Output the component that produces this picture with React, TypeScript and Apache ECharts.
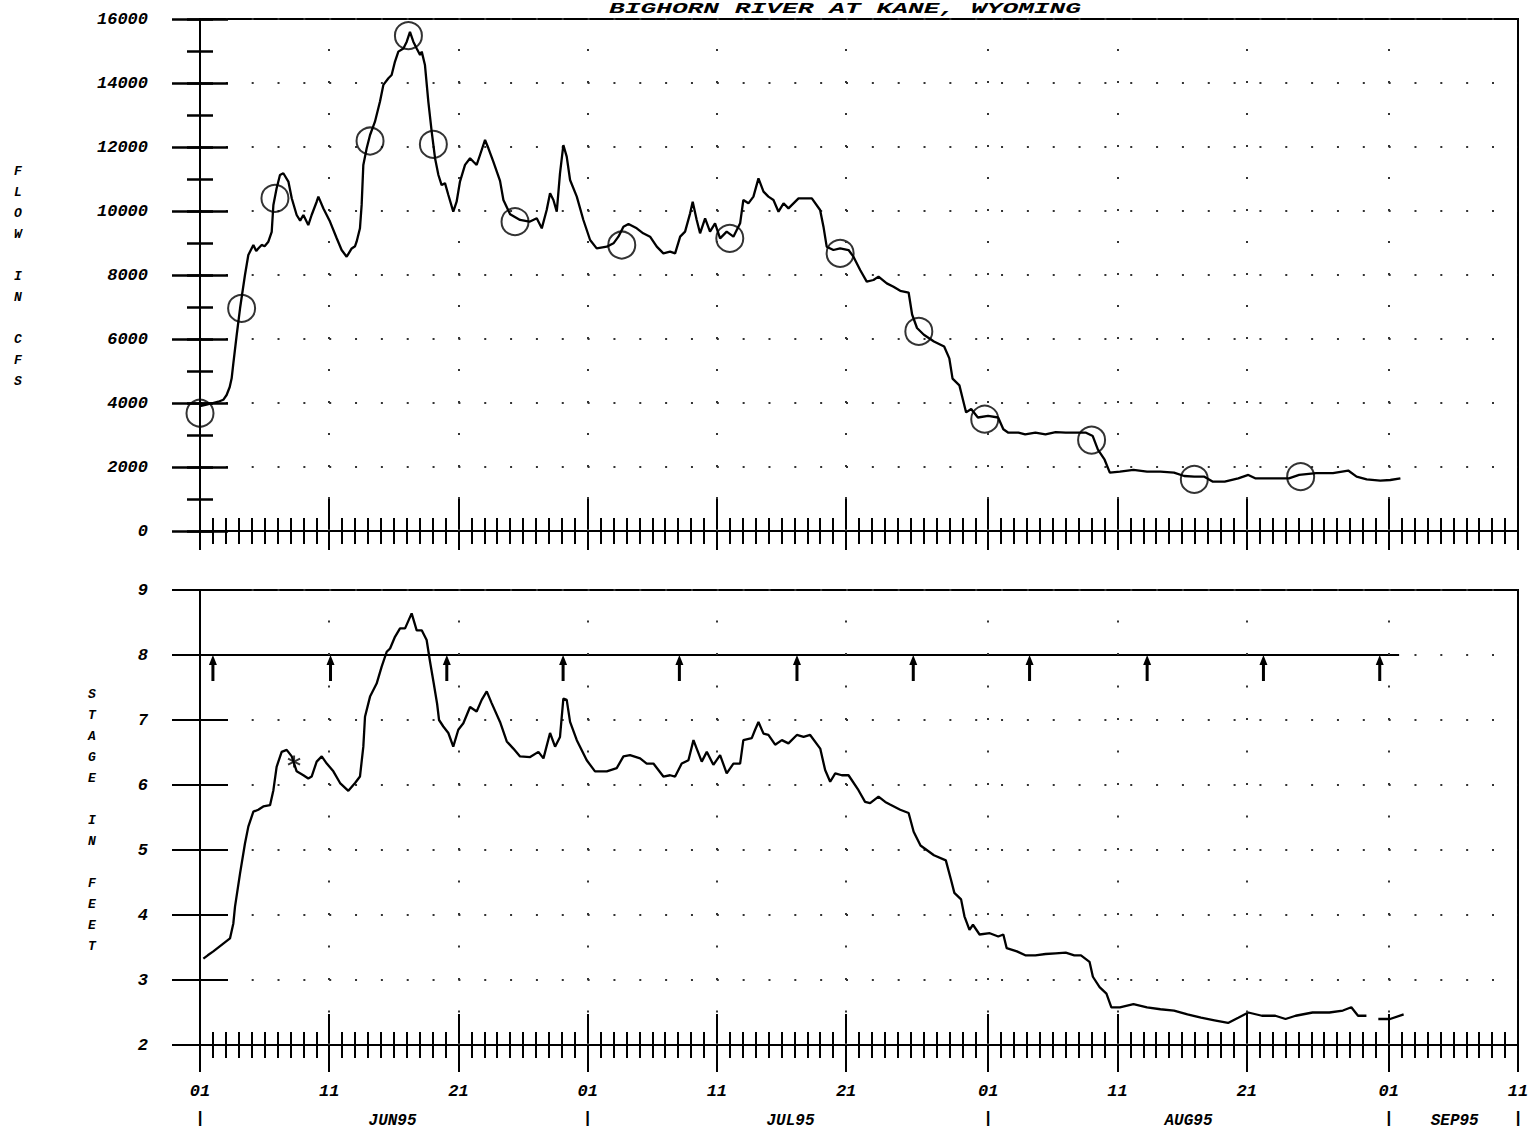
import React, { useEffect, useRef } from 'react';
import * as echarts from 'echarts';

// ---- Data (days since 01 Jun 1995) ----
const flowDays = [0.0, 0.5, 1.0, 1.42, 1.8, 2.06, 2.3, 2.45, 2.58, 2.84, 3.1, 3.48, 3.74, 4.13, 4.35, 4.51, 4.77, 5.0, 5.29, 5.55, 5.68, 5.93, 6.19, 6.45, 6.84, 7.1, 7.48, 7.75, 8.0, 8.38, 8.64, 9.03, 9.16, 9.55, 10.06, 10.58, 10.96, 11.35, 11.74, 12.0, 12.12, 12.38, 12.51, 12.64, 12.9, 13.16, 13.54, 13.93, 14.19, 14.58, 14.83, 15.09, 15.35, 15.74, 16.0, 16.25, 16.51, 16.77, 17.03, 17.16, 17.41, 17.67, 17.93, 18.19, 18.45, 18.7, 18.96, 19.22, 19.6, 19.86, 20.12, 20.51, 20.9, 21.16, 21.41, 21.67, 22.06, 22.32, 22.7, 23.22, 23.48, 24.0, 24.77, 25.5, 26.06, 26.45, 26.83, 27.09, 27.35, 27.61, 27.86, 28.12, 28.38, 28.64, 29.16, 29.67, 30.19, 30.7, 31.48, 32.0, 32.38, 32.77, 33.16, 33.8, 34.3, 34.83, 35.35, 35.86, 36.38, 36.77, 37.16, 37.54, 37.93, 38.13, 38.44, 38.7, 39.09, 39.47, 39.86, 40.25, 40.76, 41.28, 41.8, 42.05, 42.44, 42.83, 43.22, 43.61, 43.99, 44.38, 44.77, 45.16, 45.54, 45.93, 46.32, 46.96, 47.35, 47.99, 48.25, 48.5, 49.02, 49.54, 50.19, 50.57, 51.09, 51.6, 52.12, 52.51, 53.15, 53.67, 54.19, 54.84, 55.11, 55.49, 56.02, 56.8, 57.59, 57.99, 58.24, 58.77, 59.03, 59.29, 59.68, 60.2, 60.99, 61.77, 62.17, 62.56, 63.34, 63.86, 64.65, 65.43, 66.22, 67.0, 67.79, 68.57, 69.09, 69.49, 70.01, 70.41, 71.19, 72.24, 73.29, 74.33, 75.38, 76.16, 76.95, 77.73, 78.39, 79.3, 80.35, 81.13, 81.66, 82.7, 83.49, 84.27, 85.06, 86.37, 87.68, 88.86, 89.51, 90.29, 91.34, 92.12, 92.9];
const flowCfs = [3900, 3950, 4000, 4040, 4100, 4250, 4500, 4770, 5240, 6125, 6960, 8000, 8625, 8940, 8750, 8830, 8940, 8900, 9040, 9350, 10190, 10710, 11125, 11180, 10920, 10400, 9875, 9700, 9875, 9560, 9875, 10290, 10450, 10080, 9670, 9150, 8780, 8570, 8830, 8900, 9040, 9460, 10190, 11440, 11960, 12375, 12790, 13420, 13940, 14150, 14250, 14670, 14980, 15080, 15290, 15600, 15290, 15080, 14875, 14980, 14560, 13420, 12480, 11650, 11125, 10810, 10870, 10500, 9980, 10290, 10920, 11440, 11650, 11540, 11440, 11750, 12220, 11960, 11540, 10940, 10344, 9900, 9719, 9666, 9771, 9458, 10031, 10552, 10344, 9979, 11177, 12062, 11698, 10969, 10448, 9719, 9094, 8833, 8885, 8990, 9198, 9510, 9594, 9458, 9302, 9198, 8885, 8677, 8729, 8677, 9198, 9354, 9927, 10292, 9719, 9302, 9771, 9354, 9614, 9146, 9354, 9198, 9614, 10344, 10240, 10448, 11021, 10604, 10448, 10344, 9979, 10240, 10083, 10240, 10396, 10396, 10396, 10031, 9510, 8885, 8781, 8833, 8781, 8573, 8156, 7792, 7844, 7948, 7739, 7635, 7506, 7453, 6766, 6344, 6134, 5922, 5763, 5394, 4762, 4550, 4128, 3706, 3812, 3547, 3600, 3547, 3178, 3072, 3072, 3019, 3072, 3019, 3090, 3072, 3072, 3072, 2966, 2544, 2228, 1825, 1856, 1910, 1856, 1856, 1825, 1719, 1698, 1698, 1541, 1541, 1646, 1753, 1646, 1646, 1646, 1646, 1753, 1806, 1806, 1890, 1698, 1615, 1572, 1594, 1646];

const measDays = [0.0, 3.22, 5.8, 13.16, 16.13, 18.06, 24.38, 32.64, 41.0, 49.54, 55.63, 60.73, 69.0, 76.95, 85.18];
const measCfs = [3680, 6958, 10396, 12187, 15479, 12083, 9666, 8937, 9146, 8677, 6238, 3494, 2840, 1615, 1698];

const stageDays = [0.26, 0.6, 1.03, 1.8, 2.32, 2.58, 2.71, 3.1, 3.48, 3.74, 4.13, 4.51, 4.9, 5.42, 5.68, 5.93, 6.32, 6.71, 7.1, 7.48, 8.0, 8.38, 8.64, 9.03, 9.42, 9.81, 10.32, 10.84, 11.48, 12.0, 12.38, 12.64, 12.77, 13.16, 13.67, 14.06, 14.45, 14.71, 15.09, 15.48, 15.87, 16.38, 16.77, 17.16, 17.54, 17.8, 18.1, 18.35, 18.5, 18.83, 19.22, 19.6, 19.99, 20.38, 20.9, 21.41, 21.8, 22.19, 22.57, 23.22, 23.74, 24.25, 24.77, 25.55, 26.19, 26.58, 27.09, 27.48, 27.86, 28.12, 28.38, 28.64, 29.16, 29.93, 30.57, 31.48, 32.25, 32.77, 33.28, 34.06, 34.57, 35.09, 35.86, 36.38, 36.77, 37.28, 37.8, 38.19, 38.44, 38.83, 39.22, 39.73, 40.25, 40.76, 41.28, 41.8, 42.05, 42.7, 42.96, 43.22, 43.61, 43.99, 44.51, 45.03, 45.54, 46.19, 46.71, 47.22, 48.0, 48.38, 48.77, 49.16, 49.67, 50.19, 50.96, 51.47, 51.86, 52.51, 53.03, 53.4, 54.19, 54.84, 55.23, 55.76, 56.8, 57.72, 58.11, 58.38, 58.9, 59.16, 59.55, 59.82, 60.33, 61.12, 61.78, 62.17, 62.43, 63.22, 63.87, 64.65, 65.44, 66.22, 67.0, 67.66, 68.18, 68.84, 69.1, 69.62, 70.15, 70.53, 71.19, 72.24, 73.29, 74.33, 75.38, 76.42, 77.47, 78.51, 79.56, 80.35, 81.13, 82.18, 83.22, 84.01, 84.79, 86.1, 87.4, 88.45, 89.1, 89.62, 90.27, 90.7, 91.19, 92.1, 93.15];
const stageFeet = [3.33, 3.38, 3.44, 3.56, 3.64, 3.87, 4.13, 4.64, 5.10, 5.36, 5.59, 5.62, 5.67, 5.69, 5.92, 6.28, 6.51, 6.54, 6.44, 6.21, 6.15, 6.10, 6.13, 6.36, 6.44, 6.33, 6.21, 6.03, 5.91, 6.03, 6.13, 6.59, 7.05, 7.36, 7.56, 7.82, 8.05, 8.10, 8.28, 8.41, 8.41, 8.64, 8.38, 8.38, 8.23, 7.9, 7.55, 7.25, 7.0, 6.9, 6.8, 6.59, 6.85, 6.95, 7.2, 7.13, 7.31, 7.44, 7.26, 6.97, 6.67, 6.56, 6.44, 6.43, 6.51, 6.41, 6.80, 6.59, 6.74, 7.33, 7.31, 6.97, 6.69, 6.38, 6.21, 6.21, 6.26, 6.44, 6.46, 6.41, 6.33, 6.33, 6.13, 6.15, 6.13, 6.33, 6.38, 6.69, 6.56, 6.36, 6.51, 6.31, 6.46, 6.18, 6.33, 6.33, 6.69, 6.72, 6.85, 6.97, 6.79, 6.77, 6.62, 6.69, 6.64, 6.77, 6.74, 6.77, 6.56, 6.23, 6.05, 6.18, 6.15, 6.15, 5.92, 5.74, 5.72, 5.82, 5.74, 5.70, 5.62, 5.57, 5.28, 5.07, 4.92, 4.84, 4.55, 4.34, 4.24, 3.98, 3.77, 3.85, 3.70, 3.72, 3.67, 3.70, 3.49, 3.44, 3.38, 3.38, 3.40, 3.41, 3.42, 3.38, 3.38, 3.28, 3.05, 2.89, 2.79, 2.58, 2.58, 2.63, 2.58, 2.55, 2.53, 2.47, 2.42, 2.38, 2.34, 2.42, 2.50, 2.45, 2.45, 2.40, 2.45, 2.50, 2.50, 2.53, 2.58, 2.45, 2.45, null, 2.40, 2.40, 2.47];

const starDays = [7.28];
const starFeet = [6.36];

const arrowDays = [1.0, 10.1, 19.1, 28.1, 37.1, 46.2, 55.2, 64.2, 73.3, 82.3, 91.3];
const refStageFeet = 8;
const refLineDays = [0, 92.8];

// ---- Axis ticks / labels ----
const xLabelDays = [0, 10, 20, 30, 40, 50, 61, 71, 81, 92, 102];
const xLabelText = ['01', '11', '21', '01', '11', '21', '01', '11', '21', '01', '11'];
const monthMarkDays = [0, 30, 61, 92, 102];
const gridDays = [10, 20, 30, 40, 50, 61, 71, 81, 92];
const monthLabelDays = [14.9, 45.7, 76.5, 97.1];
const monthLabels = ['JUN95', 'JUL95', 'AUG95', 'SEP95'];
const dailyDays = Array.from({ length: 103 }, (_, i) => i);
const titleText = 'BIGHORN RIVER AT KANE, WYOMING';

const FONT = 'Liberation Mono';
const lab = { fontFamily: FONT, fontStyle: 'italic', fontWeight: 'bold', fontSize: 17, color: '#000' };
const black = '#000';

function tickX(grid: number, offset: number, length: number, values: number[], width: number) {
  return {
    type: 'value', gridIndex: grid, min: 0, max: 102, position: 'bottom', offset,
    axisLine: { show: false, onZero: false },
    axisTick: { show: true, inside: false, length, customValues: values, lineStyle: { color: black, width } },
    axisLabel: { show: false }, splitLine: { show: false },
  };
}
function tickY(grid: number, min: number, max: number, interval: number, offset: number, length: number, width: number) {
  return {
    type: 'value', gridIndex: grid, min, max, interval, position: 'left', offset,
    axisLine: { show: false, onZero: false },
    axisTick: { show: true, inside: false, length, lineStyle: { color: black, width } },
    axisLabel: { show: false }, splitLine: { show: false },
  };
}

export default function App() {
  const ref = useRef<HTMLDivElement>(null);
  useEffect(() => {
    const chart = echarts.init(ref.current as HTMLDivElement, null, { renderer: 'svg' });
    const option: any = {
      animation: false,
      backgroundColor: '#fff',
      grid: [
        { left: 200, top: 19, width: 1318, height: 512, show: true, borderColor: black, borderWidth: 2, backgroundColor: 'transparent' },
        { left: 200, top: 590, width: 1318, height: 455, show: true, borderColor: black, borderWidth: 2, backgroundColor: 'transparent' },
      ],
      xAxis: [
        { type: 'value', gridIndex: 0, min: 0, max: 102, position: 'bottom',
          axisLine: { show: true, onZero: false, lineStyle: { color: black, width: 2 } },
          axisTick: { show: false }, axisLabel: { show: false }, splitLine: { show: false } },
        tickX(0, -13, 26, dailyDays, 2),
        tickX(0, -34, 53, xLabelDays, 2),
        { type: 'value', gridIndex: 1, min: 0, max: 102, position: 'bottom',
          axisLine: { show: true, onZero: false, lineStyle: { color: black, width: 2 } },
          axisTick: { show: false }, splitLine: { show: false },
          axisLabel: {
            show: true, customValues: xLabelDays, margin: 33, lineHeight: 27, ...lab,
            formatter: (v: number) => {
              const i = xLabelDays.indexOf(v);
              const t = i >= 0 ? xLabelText[i] : '';
              return monthMarkDays.indexOf(v) >= 0 ? t + '\n|' : t;
            },
          } },
        tickX(1, -13, 26, dailyDays, 2),
        tickX(1, -31, 58, xLabelDays, 2),
        { type: 'value', gridIndex: 1, min: 0, max: 102, position: 'bottom',
          axisLine: { show: false, onZero: false }, axisTick: { show: false }, splitLine: { show: false },
          axisLabel: {
            show: true, customValues: monthLabelDays, margin: 68, ...lab, fontSize: 16,
            formatter: (v: number) => { const i = monthLabelDays.indexOf(v); return i >= 0 ? monthLabels[i] : ''; },
          } },
      ],
      yAxis: [
        { type: 'value', gridIndex: 0, min: 0, max: 16000, interval: 2000, position: 'left',
          axisLine: { show: true, onZero: false, lineStyle: { color: black, width: 2 } },
          axisTick: { show: false },
          axisLabel: { show: true, margin: 52, ...lab, formatter: (v: number) => String(v) },
          splitLine: { show: true, lineStyle: { color: '#333', width: 2, type: [2, 23.84] } } },
        tickY(0, 0, 16000, 2000, -28, 56, 2.5),
        tickY(0, 0, 16000, 1000, -13, 26, 2.5),
        { type: 'value', gridIndex: 1, min: 2, max: 9, interval: 1, position: 'left',
          axisLine: { show: true, onZero: false, lineStyle: { color: black, width: 2 } },
          axisTick: { show: false },
          axisLabel: { show: true, margin: 52, ...lab, formatter: (v: number) => String(v) },
          splitLine: { show: true, lineStyle: { color: '#333', width: 2, type: [2, 23.84] } } },
        tickY(1, 2, 9, 1, -28, 56, 2),
      ],
      graphic: [
        { type: 'text', x: 845, y: 1, scaleX: 1.75, silent: true,
          style: { text: titleText, fill: black, font: `italic bold 15px "${FONT}"`, textAlign: 'center', textVerticalAlign: 'top' } },
        { type: 'text', x: 18, y: 161, silent: true,
          style: { text: 'F\nL\nO\nW\n\nI\nN\n\nC\nF\nS', fill: black, font: `italic bold 13px "${FONT}"`, lineHeight: 21, textAlign: 'center', textVerticalAlign: 'top' } },
        { type: 'text', x: 92, y: 684, silent: true,
          style: { text: 'S\nT\nA\nG\nE\n\nI\nN\n\nF\nE\nE\nT', fill: black, font: `italic bold 13px "${FONT}"`, lineHeight: 21, textAlign: 'center', textVerticalAlign: 'top' } },
      ],
      series: [
        { type: 'line', name: 'Flow', xAxisIndex: 0, yAxisIndex: 0, showSymbol: false, symbol: 'none',
          data: flowDays.map((d, i) => [d, flowCfs[i]]),
          lineStyle: { color: black, width: 2.3 }, emphasis: { disabled: true },
          markLine: { silent: true, symbol: ['none', 'none'], label: { show: false }, animation: false,
            lineStyle: { color: '#333', width: 2, type: [2, 30] },
            data: gridDays.map((d) => ({ xAxis: d })) } },
        { type: 'scatter', name: 'Measurements', xAxisIndex: 0, yAxisIndex: 0, symbol: 'circle', symbolSize: 27,
          data: measDays.map((d, i) => [d, measCfs[i]]),
          itemStyle: { color: 'rgba(0,0,0,0)', borderColor: black, borderWidth: 2 }, emphasis: { disabled: true } },
        { type: 'line', name: 'Stage', xAxisIndex: 3, yAxisIndex: 3, showSymbol: false, symbol: 'none', connectNulls: false,
          data: stageDays.map((d, i) => [d, stageFeet[i]]),
          lineStyle: { color: black, width: 2.3 }, emphasis: { disabled: true },
          markLine: { silent: true, symbol: ['none', 'none'], label: { show: false }, animation: false,
            lineStyle: { color: '#333', width: 2, type: [2, 30.5] },
            data: gridDays.map((d) => ({ xAxis: d })) } },
        { type: 'line', name: 'Reference', xAxisIndex: 3, yAxisIndex: 3, showSymbol: false, symbol: 'none',
          data: refLineDays.map((d) => [d, refStageFeet]),
          lineStyle: { color: black, width: 1.8 }, emphasis: { disabled: true } },
        { type: 'scatter', name: 'Arrows', xAxisIndex: 3, yAxisIndex: 3,
          symbol: 'path://M4,0 L8,10 L5.5,10 L5.5,26 L2.5,26 L2.5,10 L0,10 Z', symbolSize: [8, 26], symbolOffset: [0, 13],
          data: arrowDays.map((d) => [d, refStageFeet]),
          itemStyle: { color: black, opacity: 1 }, emphasis: { disabled: true } },
        { type: 'scatter', name: 'Star', xAxisIndex: 3, yAxisIndex: 3,
          symbol: 'path://M6,0 L6,12 M0.8,3 L11.2,9 M0.8,9 L11.2,3', symbolSize: 12,
          data: starDays.map((d, i) => [d, starFeet[i]]),
          itemStyle: { color: 'rgba(0,0,0,0)', borderColor: black, borderWidth: 2 }, emphasis: { disabled: true } },
      ],
    };
    chart.setOption(option);
    return () => chart.dispose();
  }, []);
  return <div ref={ref} style={{ position: 'fixed', left: 0, top: 0, width: 1537, height: 1134, background: '#fff' }} />;
}
